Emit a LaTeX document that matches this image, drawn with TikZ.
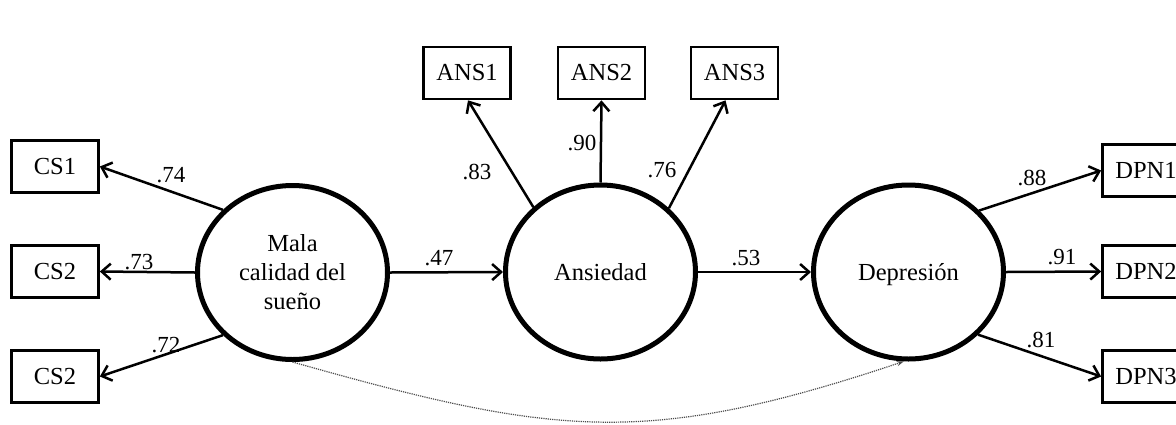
\documentclass[tikz,border=0pt]{standalone}
\usepackage{fontspec}
\setmainfont{Liberation Serif}
\usetikzlibrary{shapes.geometric,arrows.meta}
\begin{document}
\begin{tikzpicture}[x=1pt,y=-1pt,
  obs/.style={draw, line width=2.7pt, minimum width=87pt, minimum height=52pt,
    inner sep=0pt, font=\fontsize{24.5}{29}\selectfont},
  lat/.style={draw, ellipse, line width=5pt, minimum width=190pt, minimum height=174pt,
    inner sep=0pt, align=center, font=\fontsize{24.5}{29}\selectfont},
  oneline/.style={text height=17pt, text depth=0pt},
  load/.style={line width=2.5pt, -{Straight Barb[length=9pt,width=16pt]}},
  lab/.style={inner sep=0pt, font=\fontsize{23}{27}\selectfont},
  cov/.style={densely dotted, black!70, line width=1.2pt, -{Stealth[length=7pt,width=5pt]}}]
\useasboundingbox (0,0) rectangle (1176,424);
\clip (0,0) rectangle (1176,424);

% latent factors
\node[lat] (mala) at (292.5,272.5) {Mala\\calidad del\\sueño};
\node[lat, oneline] (ansi) at (600.5,272) {Ansiedad};
\node[lat, oneline] (depr) at (908.5,272) {Depresión};

% indicators
\node[obs] (cs1) at (55,166.5) {CS1};
\node[obs] (cs2) at (55,271.5) {CS2};
\node[obs] (cs3) at (55,376.5) {CS2};
\node[obs] (ans1) at (467,73) {ANS1};
\node[obs] (ans2) at (601.5,73) {ANS2};
\node[obs] (ans3) at (734.5,73) {ANS3};
\node[obs] (dpn1) at (1146,170.5) {DPN1};
\node[obs] (dpn2) at (1146,271.5) {DPN2};
\node[obs] (dpn3) at (1146,376.5) {DPN3};

% loadings
\draw[load] (mala.138) -- (cs1.east);
\draw[load] (mala.west) -- (cs2.east);
\draw[load] (mala.222) -- (cs3.east);
\draw[load] (ansi.136.5) -- ([xshift=1pt]ans1.south);
\draw[load] (ansi.north) -- (ans2.south);
\draw[load] (ansi.43) -- ([xshift=-9pt]ans3.south);
\draw[load] (depr.41.7) -- (dpn1.west);
\draw[load] (depr.east) -- (dpn2.west);
\draw[load] (depr.-42) -- (dpn3.west);

% structural paths
\draw[load] (mala.east) -- (ansi.west);
\draw[load] (ansi.east) -- (depr.west);

% direct effect
\draw[cov] (mala.south) .. controls (555,436) and (645,448) .. (depr.-93);

% coefficients
\node[lab] (l74) at (171,175) {.74};
\node[lab] (l73) at (139,262) {.73};
\node[lab] (l72) at (166,345) {.72};
\node[lab] (l83) at (477,172) {.83};
\node[lab] (l90) at (582,143) {.90};
\node[lab] (l76) at (662,170) {.76};
\node[lab] (l88) at (1032,178) {.88};
\node[lab] (l91) at (1062,257) {.91};
\node[lab] (l81) at (1041,340) {.81};
\node[lab] (l47) at (439,258) {.47};
\node[lab] (l53) at (746,258) {.53};
\end{tikzpicture}
\end{document}
